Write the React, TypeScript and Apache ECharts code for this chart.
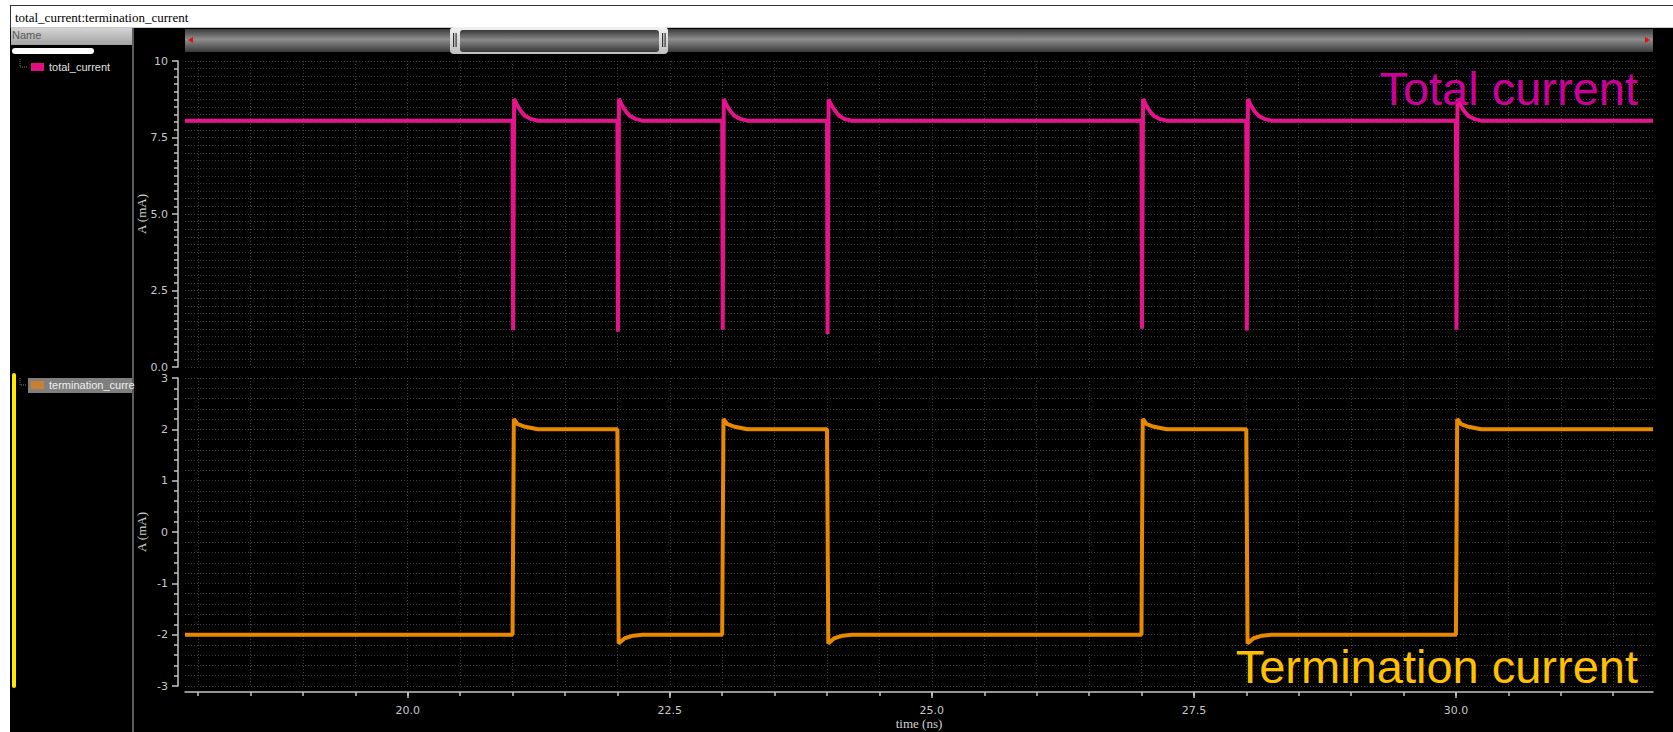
import React, { useEffect, useRef } from 'react';
import * as echarts from 'echarts';

const TITLE = 'total_current:termination_current';
const X_MIN = 17.875;
const X_MAX = 31.88;

const xGridTicks = [18, 18.5, 19, 19.5, 20, 20.5, 21, 21.5, 22, 22.5, 23, 23.5, 24, 24.5, 25, 25.5, 26, 26.5, 27, 27.5, 28, 28.5, 29, 29.5, 30, 30.5, 31, 31.5];
const xMajorTicks = [20, 22.5, 25, 27.5, 30];

// total_current (mA) vs time (ns)
const totalCurrent: [number, number][] = [
  [17.875, 8.05],
  [21.0, 8.05], [21.005, 1.2], [21.015, 8.76], [21.04, 8.58], [21.08, 8.36], [21.12, 8.2], [21.17, 8.11], [21.24, 8.05],
  [22.0, 8.05], [22.005, 1.15], [22.015, 8.77], [22.04, 8.58], [22.08, 8.36], [22.12, 8.2], [22.17, 8.11], [22.24, 8.05],
  [23.0, 8.05], [23.005, 1.22], [23.015, 8.76], [23.04, 8.57], [23.08, 8.35], [23.12, 8.2], [23.17, 8.11], [23.24, 8.05],
  [24.0, 8.05], [24.005, 1.08], [24.015, 8.75], [24.04, 8.57], [24.08, 8.36], [24.12, 8.2], [24.17, 8.1], [24.24, 8.05],
  [27.0, 8.05], [27.005, 1.25], [27.015, 8.76], [27.04, 8.58], [27.08, 8.36], [27.12, 8.2], [27.17, 8.11], [27.24, 8.05],
  [28.0, 8.05], [28.005, 1.19], [28.015, 8.76], [28.04, 8.57], [28.08, 8.35], [28.12, 8.2], [28.17, 8.11], [28.24, 8.05],
  [30.0, 8.05], [30.005, 1.22], [30.015, 8.76], [30.04, 8.58], [30.08, 8.36], [30.12, 8.2], [30.17, 8.11], [30.24, 8.05],
  [31.88, 8.05],
];

// termination_current (mA) vs time (ns)
const terminationCurrent: [number, number][] = [
  [17.875, -2.0],
  [21.0, -2.0], [21.012, 2.2], [21.05, 2.1], [21.12, 2.05], [21.24, 2.0],
  [22.0, 2.0], [22.012, -2.17], [22.07, -2.07], [22.15, -2.02], [22.24, -2.0],
  [23.0, -2.0], [23.012, 2.2], [23.05, 2.1], [23.12, 2.05], [23.24, 2.0],
  [24.0, 2.0], [24.012, -2.17], [24.07, -2.07], [24.15, -2.02], [24.24, -2.0],
  [27.0, -2.0], [27.012, 2.2], [27.05, 2.1], [27.12, 2.05], [27.24, 2.0],
  [28.0, 2.0], [28.012, -2.17], [28.07, -2.07], [28.15, -2.02], [28.24, -2.0],
  [30.0, -2.0], [30.012, 2.2], [30.05, 2.1], [30.12, 2.05], [30.24, 2.0],
  [31.88, 2.0],
];

const PINK = '#E6148C';
const ORANGE = '#E88A00';
const GRID_LINE = { color: '#3e3e3e', type: [1, 2] as any, width: 1 };
const AXIS_COLOR = '#c4c4c4';
const LABEL_FONT = { color: '#c8c8c8', fontFamily: 'DejaVu Sans', fontSize: 11 };

const barGrad = (a: string, b: string) => ({
  type: 'linear', x: 0, y: 0, x2: 0, y2: 1,
  colorStops: [
    { offset: 0, color: a },
    { offset: 0.45, color: b },
    { offset: 1, color: a },
  ],
});

export default function App() {
  const ref = useRef<HTMLDivElement>(null);
  useEffect(() => {
    if (!ref.current) return;
    const chart = echarts.init(ref.current, undefined, { renderer: 'svg' });
    const yAxisCommon = {
      type: 'value',
      offset: 7,
      axisLine: { show: true, lineStyle: { color: AXIS_COLOR, width: 1.5 } },
      axisTick: { show: true, length: 6, lineStyle: { color: AXIS_COLOR, width: 1.5 } },
      minorTick: { show: true, length: 4, lineStyle: { color: AXIS_COLOR, width: 1.5 } },
      splitLine: { show: true, lineStyle: GRID_LINE },
      minorSplitLine: { show: true, lineStyle: GRID_LINE },
      nameLocation: 'middle',
      nameRotate: 90,
      nameGap: 30,
      nameMoveOverlap: false,
      nameTextStyle: { color: '#d0d0d0', fontFamily: 'Liberation Serif', fontSize: 13 },
    };
    const option: any = {
      animation: false,
      backgroundColor: '#000',
      grid: [
        { left: 185, right: 20, top: 61, height: 306 },
        { left: 185, right: 20, top: 378, height: 308 },
      ],
      xAxis: [
        {
          gridIndex: 0, type: 'value', min: X_MIN, max: X_MAX,
          axisLine: { show: false },
          axisTick: { show: false, customValues: xGridTicks },
          axisLabel: { show: false },
          splitLine: { show: true, lineStyle: GRID_LINE },
        },
        {
          gridIndex: 1, type: 'value', min: X_MIN, max: X_MAX, position: 'bottom', offset: 6,
          axisLine: { show: true, onZero: false, lineStyle: { color: AXIS_COLOR, width: 1.5 } },
          axisTick: { show: true, length: 4, customValues: xGridTicks, lineStyle: { color: AXIS_COLOR, width: 1.5 } },
          axisLabel: {
            show: true, margin: 13, customValues: xMajorTicks, ...LABEL_FONT,
            formatter: (v: number) => v.toFixed(1),
          },
          splitLine: { show: true, lineStyle: GRID_LINE },
          name: 'time (ns)', nameLocation: 'middle', nameGap: 25, nameMoveOverlap: false,
          nameTextStyle: { color: '#d0d0d0', fontFamily: 'Liberation Serif', fontSize: 13 },
        },
        {
          gridIndex: 1, type: 'value', min: X_MIN, max: X_MAX, position: 'bottom', offset: 6,
          axisLine: { show: false, onZero: false },
          axisTick: { show: true, length: 6, customValues: xMajorTicks, lineStyle: { color: AXIS_COLOR, width: 1.5 } },
          axisLabel: { show: false },
          splitLine: { show: false },
        },
      ],
      yAxis: [
        {
          ...yAxisCommon, gridIndex: 0, min: 0, max: 10, interval: 2.5,
          minorTick: { ...yAxisCommon.minorTick, splitNumber: 10 },
          axisLabel: { ...LABEL_FONT, margin: 10, formatter: (v: number) => (v === 10 ? '10' : v.toFixed(1)) },
          name: 'A (mA)',
        },
        {
          ...yAxisCommon, gridIndex: 1, min: -3, max: 3, interval: 1,
          minorTick: { ...yAxisCommon.minorTick, splitNumber: 5 },
          axisLabel: { ...LABEL_FONT, margin: 10, formatter: (v: number) => String(v) },
          name: 'A (mA)',
        },
      ],
      series: [
        {
          name: 'total_current', type: 'line', xAxisIndex: 0, yAxisIndex: 0,
          data: totalCurrent, showSymbol: false, symbol: 'none',
          lineStyle: { color: PINK, width: 4 }, itemStyle: { color: PINK }, z: 3,
        },
        {
          name: 'termination_current', type: 'line', xAxisIndex: 1, yAxisIndex: 1,
          data: terminationCurrent, showSymbol: false, symbol: 'none',
          lineStyle: { color: ORANGE, width: 4 }, itemStyle: { color: ORANGE }, z: 3,
        },
      ],
      graphic: [
        // frame & title bar
        { type: 'rect', shape: { x: 0, y: 0, width: 10, height: 732 }, style: { fill: '#fff' }, silent: true },
        { type: 'rect', shape: { x: 0, y: 0, width: 1673, height: 5 }, style: { fill: '#fff' }, silent: true },
        { type: 'rect', shape: { x: 10, y: 5, width: 1663, height: 1 }, style: { fill: '#333' }, silent: true },
        { type: 'rect', shape: { x: 10, y: 5, width: 1, height: 23 }, style: { fill: '#333' }, silent: true },
        { type: 'rect', shape: { x: 11, y: 6, width: 1662, height: 21 }, style: { fill: '#fff' }, silent: true },
        { type: 'rect', shape: { x: 11, y: 27, width: 1662, height: 1 }, style: { fill: '#c8c8c8' }, silent: true },
        {
          type: 'text', x: 15, y: 17,
          style: { text: TITLE, fill: '#000', font: '13px "Liberation Serif"', textVerticalAlign: 'middle' },
        },
        // left panel
        {
          type: 'rect', shape: { x: 11, y: 28, width: 121, height: 17 },
          style: { fill: { type: 'linear', x: 0, y: 0, x2: 0, y2: 1, colorStops: [{ offset: 0, color: '#d4d4d4' }, { offset: 1, color: '#a2a2a2' }] } },
        },
        { type: 'text', x: 12, y: 35, style: { text: 'Name', fill: '#5a5a5a', font: '11px "Liberation Sans"', textVerticalAlign: 'middle' } },
        { type: 'rect', shape: { x: 132, y: 28, width: 2, height: 704 }, style: { fill: '#5c5c5c' } },
        { type: 'rect', shape: { x: 12, y: 48, width: 82, height: 6, r: 3 }, style: { fill: '#fff' } },
        { type: 'polyline', shape: { points: [[20, 59], [20, 67], [28, 67]] }, style: { stroke: '#777', lineWidth: 1, lineDash: [1, 1], fill: null } },
        { type: 'rect', shape: { x: 31, y: 63, width: 13, height: 8 }, style: { fill: '#E0107F' } },
        { type: 'text', x: 49, y: 67, style: { text: 'total_current', fill: '#e0e0e0', font: '11px "Liberation Sans"', textVerticalAlign: 'middle' } },
        { type: 'rect', shape: { x: 12, y: 373, width: 4, height: 315, r: 2 }, style: { fill: '#FFE800' } },
        { type: 'polyline', shape: { points: [[20, 378], [20, 385], [27, 385]] }, style: { stroke: '#777', lineWidth: 1, lineDash: [1, 1], fill: null } },
        { type: 'rect', shape: { x: 28, y: 378, width: 104, height: 15 }, style: { fill: '#7f7f7f' } },
        { type: 'rect', shape: { x: 31, y: 381, width: 13, height: 8 }, style: { fill: '#C98030' } },
        {
          type: 'text', x: 49, y: 385,
          style: { text: 'termination_current', fill: '#f0f0f0', font: '11px "Liberation Sans"', textVerticalAlign: 'middle', width: 88, overflow: 'truncate', ellipsis: '' },
        },
        // scrollbar
        { type: 'rect', shape: { x: 185, y: 29, width: 1468, height: 23 }, style: { fill: barGrad('#3a3a3a', '#8e8e8e') } },
        { type: 'polygon', shape: { points: [[188, 40], [193, 37], [193, 43]] }, style: { fill: '#e01010' } },
        { type: 'polygon', shape: { points: [[1650, 40], [1645, 37], [1645, 43]] }, style: { fill: '#e01010' } },
        {
          type: 'rect', shape: { x: 450, y: 27, width: 218, height: 27, r: 4 },
          style: { fill: { type: 'linear', x: 0, y: 0, x2: 0, y2: 1, colorStops: [{ offset: 0, color: '#f2f2f2' }, { offset: 1, color: '#bfbfbf' }] } },
        },
        { type: 'rect', shape: { x: 460, y: 30, width: 199, height: 22, r: 3 }, style: { fill: barGrad('#383838', '#8a8a8a') } },
        { type: 'rect', shape: { x: 453, y: 33, width: 1.2, height: 14 }, style: { fill: '#333' } },
        { type: 'rect', shape: { x: 455.5, y: 33, width: 1.2, height: 14 }, style: { fill: '#333' } },
        { type: 'rect', shape: { x: 662, y: 33, width: 1.2, height: 14 }, style: { fill: '#333' } },
        { type: 'rect', shape: { x: 664.5, y: 33, width: 1.2, height: 14 }, style: { fill: '#333' } },
        // annotations
        {
          type: 'text', x: 1638, y: 88.5, z: 10,
          style: { text: 'Total current', fill: '#CC0099', font: '47px "Liberation Sans"', textAlign: 'right', textVerticalAlign: 'middle' },
        },
        {
          type: 'text', x: 1638, y: 666, z: 10,
          style: { text: 'Termination current', fill: '#FFC000', font: '47px "Liberation Sans"', textAlign: 'right', textVerticalAlign: 'middle' },
        },
      ],
    };
    chart.setOption(option);
    return () => chart.dispose();
  }, []);
  return <div ref={ref} style={{ position: 'absolute', left: 0, top: 0, width: 1673, height: 732 }} />;
}
